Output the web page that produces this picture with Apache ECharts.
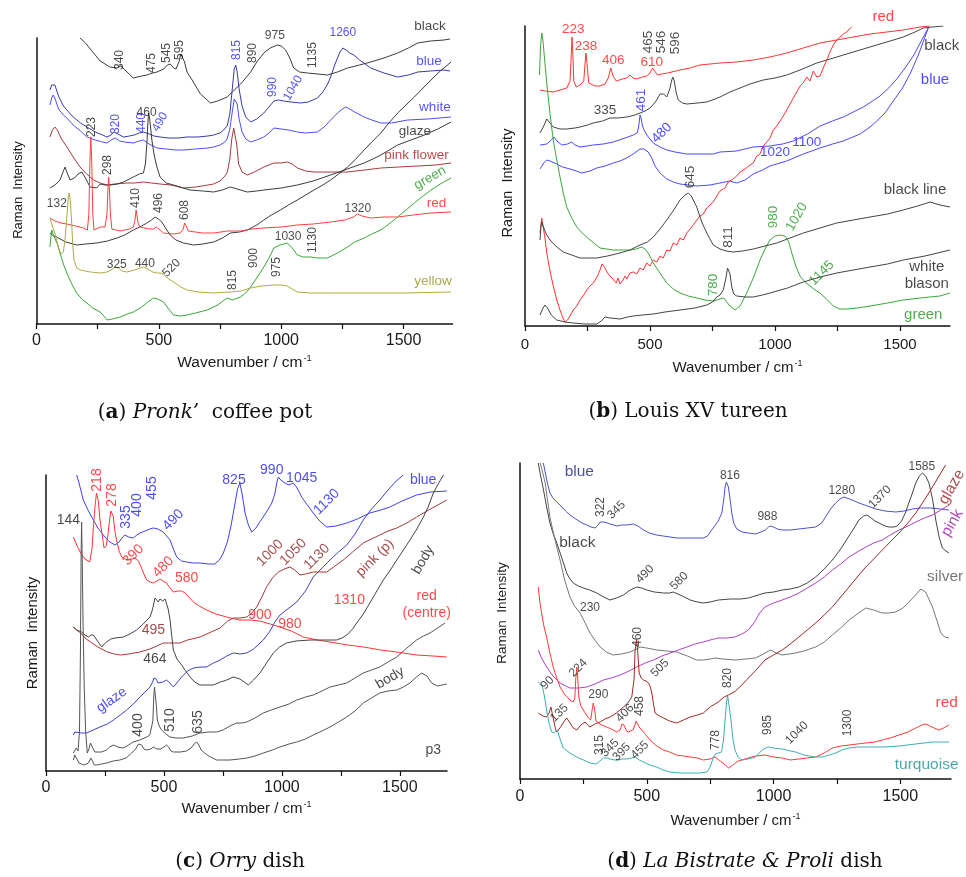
<!DOCTYPE html>
<html><head><meta charset="utf-8">
<script src="https://cdn.jsdelivr.net/npm/echarts@6/dist/echarts.min.js"></script>
<style>html,body{margin:0;padding:0;background:#fff}#c{width:966px;height:877px}</style>
</head><body><div id="c"></div>
<script>
// ---------- tick labels ----------
const xTickLabels = [0, 500, 1000, 1500];

// ---------- panel (a) Pronk' coffee pot ----------
const aBlack = [[178,286],[200,281],[230,272],[260,263],[300,257],[329,256],[345,258],[370,252],[395,246],[430,248],[451,249],[475,251],[492,252],[520,255],[535,259],[547,260],[560,256],[570,255],[582,262],[590,270],[597,271],[605,262],[615,252],[636,244],[670,230],[711,221],[740,223],[779,227],[800,232],[834,240],[855,246],[875,252],[900,262],[929,271],[955,276],[984,279],[1000,278],[1018,274],[1035,266],[1051,256],[1075,252],[1107,251],[1150,250],[1189,249],[1230,252],[1271,256],[1320,259],[1366,262],[1420,266],[1476,271],[1520,276],[1558,281],[1610,283],[1665,284],[1690,285]];
const aBlue = [[55,234],[62,239],[68,241],[75,239],[90,228],[110,218],[124,214],[150,207],[180,201],[206,197],[240,192],[270,189],[288,187],[305,189],[315,192],[325,191],[340,189],[356,187],[380,188],[400,189],[420,191],[437,192],[460,190],[480,188],[505,187],[540,186],[580,186],[615,187],[660,187],[700,188],[724,189],[750,191],[765,194],[779,198],[790,210],[800,235],[808,255],[814,259],[820,252],[828,235],[840,218],[855,207],[875,202],[900,205],[929,211],[950,217],[970,223],[990,224],[1010,223],[1040,222],[1080,221],[1110,222],[1148,226],[1170,232],[1190,240],[1202,247],[1220,260],[1240,272],[1252,276],[1265,274],[1280,271],[1297,269],[1320,264],[1366,256],[1420,251],[1476,247],[1520,249],[1558,252],[1610,253],[1665,254],[1690,253]];
const aWhite = [[55,219],[62,226],[68,229],[75,226],[90,215],[110,209],[124,206],[150,199],[180,193],[206,187],[240,184],[270,182],[288,181],[305,184],[322,186],[340,183],[360,182],[396,181],[420,183],[437,184],[460,180],[492,176],[530,175],[570,174],[601,174],[650,175],[700,176],[724,177],[750,179],[770,182],[779,185],[790,195],[800,212],[808,225],[814,227],[820,220],[828,205],[840,192],[855,185],[875,182],[900,184],[929,187],[950,191],[970,196],[1000,195],[1030,194],[1066,192],[1100,191],[1148,192],[1180,198],[1202,204],[1230,211],[1250,215],[1264,217],[1280,215],[1300,212],[1339,207],[1370,204],[1407,201],[1450,201],[1517,204],[1600,205],[1694,207]];
const aPinkFlower = [[55,187],[65,194],[75,197],[85,194],[100,186],[124,177],[150,167],[178,157],[205,150],[233,144],[260,141],[288,139],[320,140],[369,141],[400,141],[437,142],[470,141],[505,140],[550,139],[601,136],[650,137],[700,139],[724,140],[750,143],[770,148],[780,152],[790,165],[798,185],[806,196],[812,194],[818,180],[826,160],[840,152],[861,149],[890,152],[929,157],[970,161],[1000,161],[1025,162],[1045,160],[1066,156],[1100,153],[1134,152],[1200,152],[1271,152],[1340,154],[1407,156],[1480,157],[1558,158],[1630,159],[1694,161]];
const aGlaze = [[55,136],[75,139],[96,144],[110,153],[117,157],[124,152],[137,144],[155,146],[170,150],[185,152],[200,146],[219,137],[246,136],[260,140],[280,139],[301,139],[330,140],[355,142],[380,145],[396,147],[420,150],[437,151],[445,160],[451,180],[455,200],[458,211],[462,206],[467,195],[471,185],[480,170],[492,157],[505,147],[530,141],[560,139],[600,136],[628,134],[680,133],[724,132],[760,134],[792,137],[834,134],[861,132],[900,133],[929,134],[1000,136],[1066,139],[1130,143],[1202,149],[1270,155],[1339,161],[1400,168],[1476,179],[1530,184],[1585,189],[1640,195],[1694,202]];
const aBlack2 = [[55,91],[70,88],[82,87],[120,82],[164,79],[200,80],[246,81],[290,83],[329,86],[360,89],[396,94],[430,98],[451,101],[470,104],[485,107],[498,105],[512,102],[530,95],[546,89],[570,84],[601,81],[642,79],[680,80],[724,82],[760,86],[792,91],[830,92],[861,94],[900,99],[929,104],[960,109],[997,114],[1030,119],[1066,124],[1100,129],[1134,134],[1170,139],[1202,144],[1240,151],[1271,157],[1305,165],[1339,174],[1370,182],[1407,191],[1440,201],[1476,211],[1510,219],[1544,227],[1580,236],[1612,244],[1650,253],[1694,262]];
const aRed = [[55,106],[62,104],[75,103],[100,101],[124,100],[160,98],[192,96],[208,94],[214,110],[218,160],[222,187],[226,160],[230,110],[235,94],[260,97],[280,97],[288,110],[292,135],[295,147],[298,135],[302,110],[308,95],[342,93],[380,95],[396,97],[403,105],[407,114],[411,112],[416,100],[423,97],[460,95],[478,95],[490,97],[497,98],[505,94],[519,91],[560,90],[587,91],[600,95],[605,101],[608,102],[612,98],[620,93],[628,92],[680,91],[724,91],[780,93],[834,93],[880,95],[929,96],[1000,97],[1066,99],[1130,100],[1202,102],[1260,104],[1295,107],[1312,110],[1330,108],[1366,106],[1420,107],[1476,107],[1540,109],[1612,111],[1694,112]];
const aGreen = [[55,77],[60,90],[63,94],[68,90],[75,88],[85,80],[96,71],[110,60],[124,51],[140,42],[164,31],[185,25],[206,21],[230,16],[260,12],[275,8],[288,4],[310,5],[342,7],[370,10],[396,12],[430,17],[455,22],[478,26],[495,25],[519,22],[540,15],[560,9],[590,8],[615,9],[650,11],[697,14],[740,19],[779,26],[800,24],[834,27],[855,31],[875,37],[900,46],[929,57],[950,66],[970,76],[995,79],[1025,81],[1045,76],[1066,69],[1090,67],[1120,67],[1150,66],[1189,66],[1230,71],[1271,77],[1300,82],[1339,86],[1370,90],[1407,94],[1440,100],[1476,107],[1510,114],[1544,121],[1580,128],[1612,134],[1650,140],[1694,146]];
const aYellow = [[55,106],[65,98],[75,91],[88,78],[100,70],[110,72],[118,88],[125,110],[130,127],[133,131],[137,126],[143,105],[148,80],[153,64],[165,56],[178,54],[220,52],[260,51],[288,52],[305,54],[322,57],[335,56],[350,53],[369,52],[400,54],[425,56],[437,57],[455,55],[475,52],[492,51],[505,51],[519,50],[535,46],[560,42],[590,37],[615,34],[660,32],[724,31],[792,32],[834,33],[875,36],[920,38],[970,39],[1000,39],[1025,38],[1045,35],[1066,32],[1120,31],[1202,31],[1339,31],[1500,31],[1694,32]];
const aNotesDark = [[341,264,'340',90],[471,261,'475',90],[533,271,'545',90],[586,274,'595',90],[450,211,'460',0],[226,197,'223',90],[292,159,'298',90],[83,120,'132',0],[405,126,'410',90],[500,121,'496',90],[607,114,'608',90],[328,59,'325',0],[443,60,'440',0],[552,56,'520',45],[803,44,'815',90],[974,288,'975',0],[883,271,'890',90],[1130,269,'1135',90],[1313,115,'1320',0],[1028,87,'1030',0],[1130,84,'1130',90],[889,66,'900',90],[981,57,'975',90]];
const aNotesBlue = [[818,274,'815',90],[325,200,'320',90],[430,201,'440',90],[505,202,'490',60],[1252,291,'1260',0],[966,237,'990',90],[1048,236,'1040',60]];
const aNames = [[1608,298,'black',0],[1604,263,'blue',0],[1628,217,'white',0],[1546,193,'glaze',0],[1553,169,'pink flower',0],[1608,146,'green',30],[1635,121,'red',0],[1620,43,'yellow',0]];

// ---------- panel (b) Louis XV tureen ----------
const bRed = [[60,236],[80,235],[113,234],[140,236],[167,238],[180,245],[185,270],[188,289],[191,275],[195,245],[205,239],[220,241],[235,245],[240,262],[244,273],[248,262],[255,243],[280,240],[300,240],[320,242],[333,248],[343,258],[352,250],[365,245],[390,247],[407,248],[420,251],[432,248],[447,247],[470,249],[487,250],[500,253],[510,258],[518,256],[530,251],[545,252],[570,253],[620,256],[660,258],[700,261],[740,262],[780,263],[847,264],[913,266],[980,269],[1047,273],[1113,278],[1180,283],[1247,286],[1313,289],[1380,292],[1447,294],[1513,296],[1580,299],[1620,300]];
const bBlack = [[60,193],[75,200],[87,207],[100,203],[113,199],[140,197],[167,197],[200,198],[220,199],[250,201],[273,203],[310,205],[340,208],[370,208],[407,209],[440,211],[460,213],[480,215],[500,218],[515,222],[527,226],[540,232],[547,234],[555,232],[567,229],[578,236],[586,245],[591,249],[597,245],[605,233],[613,226],[630,223],[647,222],[690,223],[727,224],[760,227],[780,229],[820,234],[860,238],[900,242],[953,246],[1000,248],[1047,251],[1100,256],[1167,263],[1207,266],[1247,269],[1313,274],[1380,279],[1447,284],[1513,289],[1560,294],[1593,298],[1630,299],[1673,300]];
const bBlue1 = [[60,181],[87,182],[105,186],[116,189],[128,185],[147,181],[170,182],[187,184],[200,181],[220,179],[247,180],[273,181],[313,182],[353,184],[400,188],[433,191],[449,193],[455,200],[460,211],[464,208],[470,200],[476,196],[490,190],[513,183],[540,179],[567,176],[600,174],[647,172],[700,172],[753,172],[780,174],[847,175],[913,179],[980,180],[1030,182],[1073,185],[1130,192],[1180,200],[1230,205],[1273,209],[1313,214],[1353,219],[1390,225],[1420,230],[1455,238],[1487,247],[1520,258],[1553,270],[1585,285],[1613,298]];
const bBlue2 = [[60,157],[75,163],[87,166],[100,165],[127,162],[150,159],[180,157],[205,155],[227,153],[260,155],[287,158],[320,160],[353,163],[380,165],[407,168],[433,172],[460,177],[475,177],[493,174],[507,168],[520,160],[540,153],[567,147],[593,144],[620,142],[687,140],[740,141],[780,143],[820,145],[847,143],[880,146],[913,152],[950,156],[980,160],[1047,165],[1113,172],[1180,178],[1230,182],[1273,185],[1340,192],[1380,199],[1407,205],[1440,213],[1473,225],[1510,238],[1540,252],[1575,272],[1613,298]];
const bRed2 = [[60,93],[64,102],[67,108],[72,100],[80,88],[87,73],[100,55],[113,40],[127,26],[140,16],[150,9],[160,4],[170,6],[180,10],[193,16],[207,20],[220,26],[235,31],[250,37],[260,40],[273,43],[290,50],[300,56],[308,62],[313,63],[320,58],[330,53],[340,50],[347,48],[355,46],[365,43],[372,48],[380,42],[390,45],[400,50],[407,47],[420,53],[433,54],[447,52],[460,58],[473,56],[487,63],[500,60],[513,66],[527,64],[540,70],[553,68],[567,76],[580,75],[593,83],[607,81],[620,88],[633,86],[647,93],[660,97],[673,101],[687,106],[700,110],[713,112],[727,118],[740,121],[753,124],[767,130],[780,135],[800,138],[813,144],[827,146],[847,150],[860,154],[880,157],[900,161],[913,163],[927,170],[940,172],[953,180],[967,184],[980,188],[993,196],[1007,200],[1020,205],[1033,210],[1047,216],[1060,222],[1073,228],[1087,234],[1100,240],[1113,243],[1127,249],[1140,245],[1153,255],[1167,249],[1180,250],[1193,258],[1207,266],[1220,274],[1233,281],[1247,286],[1260,289],[1273,292],[1287,294],[1297,297],[1307,299]];
const bGreen = [[58,251],[62,280],[67,293],[72,285],[80,262],[87,243],[100,212],[113,186],[127,166],[140,149],[153,133],[167,119],[187,108],[207,99],[233,92],[260,86],[300,78],[353,76],[400,76],[420,76],[445,77],[467,79],[480,77],[495,72],[513,63],[540,53],[567,43],[593,37],[620,33],[653,30],[687,28],[720,26],[753,25],[780,27],[795,28],[807,24],[820,20],[840,16],[860,20],[887,33],[913,48],[940,66],[960,77],[980,86],[1000,90],[1020,91],[1040,90],[1055,84],[1067,73],[1083,60],[1100,50],[1120,44],[1140,40],[1160,36],[1180,33],[1210,26],[1233,20],[1260,17],[1287,17],[1330,18],[1380,20],[1450,23],[1513,26],[1580,28],[1660,30],[1700,33]];
const bBlackLine = [[60,86],[64,100],[67,104],[72,100],[85,92],[100,86],[127,79],[153,74],[187,71],[220,68],[250,68],[287,68],[330,70],[380,73],[420,76],[460,81],[490,84],[513,89],[540,97],[567,106],[595,116],[620,126],[640,131],[653,133],[665,130],[687,119],[707,104],[727,93],[753,81],[780,77],[805,75],[833,74],[870,75],[913,77],[960,80],[1007,83],[1060,88],[1113,93],[1180,98],[1247,103],[1313,106],[1380,109],[1450,112],[1513,116],[1570,120],[1620,124],[1660,121],[1700,119]];
const bWhiteBlason = [[60,11],[70,17],[80,21],[90,18],[105,11],[127,6],[160,4],[193,3],[240,2],[287,2],[305,5],[320,9],[340,8],[380,7],[410,9],[433,10],[470,11],[513,12],[560,14],[620,16],[680,18],[727,21],[750,24],[767,29],[780,31],[793,36],[803,47],[810,58],[815,59],[820,52],[827,39],[835,32],[847,30],[880,29],[913,29],[950,31],[980,33],[1050,38],[1113,44],[1180,49],[1247,53],[1313,56],[1380,59],[1450,62],[1513,66],[1600,70],[1700,76]];
const bNotesRed = [[193,297,'223',0],[244,280,'238',0],[353,266,'406',0],[507,264,'610',0]];
const bNotesDark = [[493,284,'465',90],[547,284,'546',90],[600,283,'596',90],[320,216,'335',0],[660,149,'645',90],[813,89,'811',90]];
const bNotesBlue = [[467,226,'461',90],[547,193,'480',45],[1000,174,'1020',0],[1127,184,'1100',0]];
const bNotesGreen = [[753,41,'780',90],[993,109,'980',90],[1087,109,'1020',60],[1187,53,'1145',45]];
const bNames = [[1433,309,'red',0],[1667,280,'black',0],[1640,246,'blue',0],[1560,136,'black line',0],[1607,59,'white',0],[1607,42,'blason',0],[1593,11,'green',0]];

// ---------- panel (c) Orry dish ----------
const cBlue = [[130,296],[140,288],[158,271],[180,260],[201,251],[220,243],[243,236],[265,230],[292,226],[310,229],[325,234],[335,236],[350,234],[370,233],[385,236],[398,238],[420,240],[440,242],[455,243],[475,242],[497,239],[515,234],[526,231],[540,222],[554,214],[575,210],[596,209],[625,208],[653,208],[690,207],[716,207],[735,211],[752,218],[770,230],[785,246],[800,266],[812,282],[822,288],[832,276],[844,258],[858,246],[872,239],[890,243],[906,249],[921,254],[940,261],[957,268],[970,277],[980,290],[985,294],[995,291],[1013,288],[1030,286],[1048,288],[1062,284],[1084,274],[1108,266],[1133,258],[1160,250],[1190,244],[1230,245],[1275,248],[1320,252],[1373,258],[1420,261],[1458,264],[1510,270],[1571,276],[1630,279],[1699,280]];
const cRed = [[116,234],[130,226],[147,218],[165,212],[185,209],[195,222],[201,244],[208,265],[214,278],[217,279],[222,270],[228,253],[235,241],[246,223],[255,225],[262,235],[270,252],[275,260],[278,261],[285,255],[292,240],[299,231],[310,220],[321,214],[335,212],[349,211],[365,212],[378,213],[384,212],[392,210],[405,203],[415,197],[427,191],[441,189],[455,188],[470,190],[483,192],[496,190],[511,188],[526,183],[540,179],[560,180],[575,180],[590,178],[605,174],[625,169],[650,165],[681,161],[720,157],[766,154],[800,152],[822,151],[865,151],[905,150],[921,149],[950,147],[992,144],[1040,140],[1091,134],[1150,131],[1204,129],[1280,126],[1345,124],[1420,121],[1487,119],[1571,116],[1640,115],[1699,114]];
const cPink = [[116,144],[130,141],[147,138],[170,132],[189,129],[220,124],[260,119],[290,117],[316,116],[350,117],[398,119],[440,122],[470,125],[497,128],[520,128],[545,128],[568,128],[600,131],[653,134],[700,139],[738,143],[770,150],[794,153],[822,153],[851,154],[873,158],[893,164],[915,174],[935,184],[960,193],[985,199],[1010,202],[1034,204],[1055,201],[1077,196],[1100,197],[1133,199],[1160,199],[1190,199],[1225,205],[1260,211],[1300,219],[1345,228],[1380,232],[1415,236],[1450,240],[1487,243],[1530,248],[1571,254],[1630,262],[1699,271]];
const cBody = [[116,144],[130,141],[151,139],[165,136],[180,134],[190,136],[201,136],[218,130],[236,124],[247,127],[257,129],[275,132],[292,133],[328,134],[356,137],[384,141],[412,147],[441,154],[452,162],[462,173],[469,172],[476,169],[483,172],[490,173],[495,170],[500,169],[505,172],[511,171],[518,162],[526,151],[533,135],[540,121],[555,112],[575,106],[592,100],[611,94],[630,89],[653,86],[680,86],[709,86],[740,89],[766,91],[794,94],[822,92],[840,89],[858,86],[880,91],[907,98],[935,108],[964,118],[990,124],[1020,128],[1060,130],[1119,131],[1180,131],[1232,131],[1255,133],[1275,136],[1300,142],[1317,148],[1345,157],[1373,168],[1400,179],[1430,191],[1460,201],[1487,211],[1515,221],[1543,231],[1572,242],[1600,254],[1620,264],[1642,278],[1665,288],[1685,296]];
const cGlaze = [[116,36],[122,39],[130,39],[150,38],[172,38],[200,41],[229,44],[260,47],[286,51],[315,56],[342,61],[370,67],[398,74],[420,79],[441,84],[452,89],[458,93],[462,94],[467,92],[475,88],[483,86],[496,89],[511,91],[525,88],[540,84],[558,89],[575,94],[600,100],[625,103],[653,104],[681,104],[710,108],[738,111],[766,115],[794,118],[822,117],[851,118],[880,122],[921,131],[950,140],[970,149],[992,156],[1030,163],[1063,169],[1100,180],[1133,194],[1170,203],[1204,211],[1240,219],[1275,226],[1310,237],[1345,251],[1380,262],[1415,271],[1450,281],[1485,290],[1515,296]];
const cBodyLow = [[116,18],[122,20],[128,23],[136,20],[142,40],[146,120],[149,220],[151,249],[153,220],[157,150],[162,84],[168,40],[175,18],[182,22],[189,28],[196,24],[207,19],[215,18],[235,19],[257,21],[270,24],[286,26],[305,24],[328,23],[350,26],[370,29],[398,31],[427,34],[440,36],[448,38],[453,50],[457,75],[460,84],[464,84],[468,65],[472,51],[480,45],[490,41],[508,37],[526,34],[550,33],[582,33],[620,35],[653,38],[690,39],[723,39],[750,41],[780,45],[808,48],[830,48],[851,49],[886,53],[921,58],[955,61],[992,64],[1030,67],[1063,71],[1100,74],[1133,76],[1170,80],[1204,84],[1240,86],[1275,88],[1310,93],[1345,98],[1380,101],[1415,104],[1450,109],[1487,114],[1530,123],[1571,131],[1600,135],[1628,138],[1660,143],[1692,148]];
const cP3 = [[116,11],[122,16],[128,14],[140,8],[160,6],[180,8],[190,13],[197,10],[205,6],[215,6],[235,7],[257,8],[285,10],[313,11],[340,13],[363,18],[380,22],[392,27],[398,28],[405,26],[415,22],[427,21],[445,22],[455,24],[462,24],[470,22],[485,22],[500,24],[511,26],[520,24],[530,20],[540,19],[570,19],[596,20],[615,23],[628,27],[639,29],[648,26],[658,21],[667,19],[690,15],[723,11],[750,11],[780,11],[820,12],[851,13],[886,15],[921,18],[960,21],[992,24],[1030,27],[1063,29],[1100,32],[1133,36],[1170,40],[1204,44],[1240,49],[1275,54],[1310,60],[1345,68],[1380,73],[1415,78],[1450,80],[1487,81],[1515,84],[1543,88],[1570,94],[1593,98],[1615,95],[1635,88],[1660,85],[1699,87]];
const cNotesRed = [[215,291,'218',90],[279,276,'278',90],[370,216,'390',45],[497,204,'480',45],[596,193,'580',0],[1286,171,'1310',0],[907,156,'900',0],[1034,147,'980',0],[1614,175,'red',0],[1614,158,'(centre)',0]];
const cNotesBlue = [[339,254,'335',90],[387,266,'400',90],[452,283,'455',90],[540,251,'490',45],[797,291,'825',0],[957,301,'990',0],[1084,293,'1045',0],[1190,269,'1130',45],[1599,291,'blue',0],[279,71,'glaze',35]];
const cNotesDark = [[95,251,'144',0],[462,112,'464',0],[391,46,'400',90],[526,51,'510',90],[646,49,'635',90],[1599,211,'body',60],[1458,93,'body',30],[1642,21,'p3',0]];
const cNotesBrown = [[455,141,'495',0],[950,218,'1000',45],[1048,219,'1050',45],[1148,214,'1130',45],[1395,213,'pink (p)',45]];

// ---------- panel (d) La Bistrate & Proli dish ----------
const dBlue = [[92,316],[100,306],[108,296],[118,286],[130,281],[145,277],[158,274],[180,268],[197,264],[220,260],[245,256],[263,254],[280,252],[296,251],[305,253],[316,257],[330,257],[345,256],[355,255],[370,254],[382,253],[400,254],[421,254],[447,255],[465,253],[487,249],[510,246],[539,244],[565,243],[592,242],[620,241],[658,241],[690,241],[723,241],[740,243],[750,247],[765,252],[782,258],[796,266],[804,280],[809,292],[814,297],[818,297],[822,292],[829,279],[836,265],[843,256],[855,250],[876,247],[900,246],[929,245],[950,247],[968,249],[980,252],[988,253],[1000,252],[1015,250],[1034,249],[1066,249],[1100,250],[1133,251],[1166,252],[1190,256],[1205,262],[1225,270],[1245,276],[1262,280],[1278,282],[1300,280],[1320,278],[1337,276],[1370,273],[1403,270],[1440,268],[1482,267],[1515,268],[1548,270],[1580,271],[1620,271],[1660,270],[1692,269]];
const dBlack = [[72,316],[80,305],[92,290],[105,272],[118,256],[130,246],[145,236],[165,221],[184,206],[197,200],[210,196],[230,193],[250,191],[275,189],[303,186],[330,182],[355,179],[380,181],[408,184],[435,189],[460,192],[480,191],[500,189],[530,187],[566,186],[590,186],[605,187],[640,183],[671,179],[700,177],[723,176],[750,177],[782,179],[830,180],[870,180],[901,181],[940,184],[966,186],[1000,187],[1034,189],[1066,190],[1100,192],[1133,196],[1166,202],[1200,210],[1232,219],[1265,230],[1295,242],[1318,251],[1337,259],[1355,263],[1368,264],[1385,261],[1400,258],[1416,256],[1440,253],[1455,252],[1475,252],[1488,253],[1505,258],[1520,266],[1528,272],[1545,284],[1561,296],[1575,303],[1587,306],[1600,303],[1613,296],[1627,280],[1640,259],[1653,242],[1666,231],[1680,228],[1692,226]];
const dSilver = [[80,316],[90,306],[100,295],[108,280],[118,262],[130,248],[145,232],[158,219],[175,200],[197,182],[215,173],[237,166],[255,157],[276,146],[295,139],[316,132],[340,127],[368,124],[400,125],[434,127],[460,130],[474,132],[500,131],[539,129],[580,128],[618,127],[660,123],[697,119],[723,119],[750,120],[769,121],[800,120],[848,119],[890,120],[929,121],[960,125],[988,129],[1010,126],[1034,124],[1060,125],[1087,126],[1120,128],[1166,132],[1200,137],[1232,144],[1265,151],[1298,159],[1330,165],[1364,171],[1395,169],[1429,166],[1455,166],[1482,167],[1510,171],[1535,177],[1560,184],[1581,190],[1600,187],[1627,172],[1645,158],[1660,146],[1675,142],[1692,141]];
const dPink = [[72,129],[85,121],[105,112],[130,103],[158,96],[180,93],[197,91],[230,91],[263,92],[295,95],[329,99],[360,101],[395,104],[430,108],[460,112],[494,116],[526,119],[560,123],[592,126],[625,129],[658,132],[690,135],[723,137],[750,139],[782,141],[815,141],[848,142],[875,145],[901,149],[925,157],[945,166],[966,172],[1000,176],[1034,179],[1066,182],[1100,186],[1133,191],[1166,196],[1200,202],[1232,209],[1265,215],[1298,222],[1330,227],[1364,232],[1395,236],[1429,239],[1460,244],[1495,249],[1530,253],[1561,257],[1595,261],[1627,264],[1660,269],[1692,274]];
const dGlaze = [[72,66],[90,63],[105,62],[115,66],[122,72],[130,62],[140,50],[145,47],[160,52],[175,58],[184,61],[195,57],[210,51],[224,49],[240,54],[257,57],[267,54],[276,52],[295,55],[316,57],[335,60],[355,62],[380,66],[408,72],[425,76],[441,82],[450,100],[454,129],[460,139],[465,125],[470,106],[478,101],[487,99],[497,98],[507,96],[514,92],[520,86],[527,74],[533,66],[550,63],[566,61],[590,58],[618,56],[645,59],[671,62],[700,64],[723,66],[750,72],[782,77],[805,82],[822,84],[850,88],[875,94],[901,101],[935,110],[966,119],[1000,124],[1034,129],[1066,135],[1100,142],[1133,149],[1166,156],[1200,164],[1232,172],[1265,182],[1298,192],[1330,202],[1364,212],[1395,220],[1429,229],[1460,237],[1495,246],[1530,256],[1561,266],[1595,279],[1627,292],[1655,304],[1679,314]];
const dRed = [[72,192],[78,178],[85,166],[95,152],[105,142],[118,126],[131,112],[145,101],[158,92],[175,85],[197,79],[210,77],[216,80],[220,100],[224,112],[228,100],[232,82],[240,73],[257,66],[270,61],[279,59],[285,70],[289,76],[294,70],[300,58],[315,55],[342,52],[360,50],[382,47],[395,49],[402,55],[405,57],[410,54],[420,48],[428,47],[445,49],[452,53],[458,58],[463,57],[470,52],[480,49],[497,44],[513,39],[540,33],[566,29],[590,27],[618,24],[645,23],[671,22],[700,21],[723,19],[750,20],[769,22],[790,18],[810,14],[822,11],[840,14],[860,18],[875,19],[900,21],[930,23],[966,24],[1000,22],[1034,21],[1066,19],[1100,20],[1133,21],[1166,22],[1200,26],[1232,31],[1265,33],[1298,34],[1330,35],[1364,36],[1400,37],[1429,39],[1460,41],[1495,44],[1530,47],[1561,51],[1585,54],[1600,55],[1625,52],[1653,49],[1670,51],[1692,54]];
const dTurquoise = [[72,97],[80,95],[89,92],[97,82],[105,69],[115,55],[125,47],[135,46],[147,49],[158,40],[171,31],[197,26],[224,22],[250,19],[276,16],[300,15],[315,18],[329,21],[345,21],[355,20],[375,19],[388,19],[405,20],[421,20],[440,21],[454,22],[470,19],[487,17],[513,14],[539,12],[565,9],[592,7],[630,6],[671,6],[710,6],[737,7],[750,12],[758,18],[763,22],[772,25],[782,26],[795,27],[803,40],[809,59],[815,78],[819,83],[824,75],[832,59],[840,40],[848,29],[860,22],[875,19],[900,20],[929,22],[955,29],[970,31],[981,32],[1000,31],[1034,30],[1066,28],[1087,27],[1120,24],[1140,23],[1166,22],[1192,22],[1220,24],[1245,26],[1270,29],[1298,31],[1330,32],[1364,32],[1430,32],[1495,33],[1560,35],[1627,37],[1692,37]];
const dNotesDark = [[320,272,'322',90],[381,269,'345',45],[493,205,'490',45],[628,198,'580',45],[276,171,'230',0],[463,142,'460',90],[230,111,'224',45],[552,111,'505',45],[108,96,'90',45],[309,84,'290',0],[155,66,'135',45],[414,66,'406',45],[473,73,'458',90],[316,34,'315',90],[355,31,'345',45],[401,27,'395',45],[473,29,'455',45],[773,39,'778',90],[828,303,'816',0],[1585,312,'1585',0],[1269,288,'1280',0],[1420,282,'1370',45],[976,262,'988',0],[818,101,'820',90],[977,54,'985',90],[1092,46,'1040',45],[1293,56,'1300',90]];
const dNames = [[234,307,'blue',0],[226,236,'black',0],[1703,292,'glaze',60],[1705,256,'pink',60],[1677,202,'silver',0],[1683,76,'red',0],[1604,14,'turquoise',0]];

// ---------- styling ----------
const SANS = 'Liberation Sans, Arial, sans-serif';
const SERIF = 'DejaVu Serif, Liberation Serif, serif';
const panels = [
  {grid:{left:36.5, top:38, width:416, height:286}, ymax:286, tick:16, name:15.5, nameGap:30, margin:9},
  {grid:{left:525, top:26, width:425, height:300}, ymax:300, tick:15, name:15, nameGap:33, margin:11},
  {grid:{left:46, top:475, width:401, height:296}, ymax:296, tick:16, name:15, nameGap:29, margin:9},
  {grid:{left:520, top:463, width:431, height:316}, ymax:316, tick:16, name:15, nameGap:33, margin:10}
];

const series = [];
function line(p, data, color, w) {
  series.push({type:'line', xAxisIndex:p, yAxisIndex:p, data:data, showSymbol:false, symbol:'none',
    lineStyle:{color:color, width:w||1}, itemStyle:{color:color}, silent:true, animation:false, z:2});
}
function notes(p, items, color, size) {
  series.push({type:'scatter', xAxisIndex:p, yAxisIndex:p, symbolSize:1, clip:false, silent:true, animation:false, z:5,
    itemStyle:{color:'rgba(0,0,0,0)'},
    data: items.map(it => ({value:[it[0], it[1]], name:it[2], label:{rotate:it[3]||0}})),
    label:{show:true, position:'inside', formatter:'{b}', color:color, fontSize:size, fontFamily:SANS}
  });
}
function named(p, items, colors, size) {
  items.forEach((it, i) => notes(p, [it], colors[i], size));
}

// panel a
line(0, aBlack, '#3c3c3c'); line(0, aBlue, '#3a3aa8'); line(0, aWhite, '#4d4dff');
line(0, aPinkFlower, '#a63a3a'); line(0, aGlaze, '#3c3c3c'); line(0, aBlack2, '#3c3c3c');
line(0, aRed, '#ff4040'); line(0, aGreen, '#3aa83a'); line(0, aYellow, '#acac40');
notes(0, aNotesDark, '#1a1a1a', 12); notes(0, aNotesBlue, '#2828ff', 12);
named(0, aNames, ['#1a1a1a','#2828ff','#2828ff','#1a1a1a','#a02020','#229a22','#ff2020','#959520'], 13.5);
// panel b
line(1, bRed, '#ff3535'); line(1, bBlack, '#444'); line(1, bBlue1, '#4a4aff'); line(1, bBlue2, '#4a4aff');
line(1, bRed2, '#ff3535'); line(1, bGreen, '#3aa83a'); line(1, bBlackLine, '#444'); line(1, bWhiteBlason, '#444');
notes(1, bNotesRed, '#ff1a1a', 13.5); notes(1, bNotesDark, '#1a1a1a', 13.5);
notes(1, bNotesBlue, '#2020ff', 13.5); notes(1, bNotesGreen, '#229a22', 13.5);
named(1, bNames, ['#ff1a1a','#1a1a1a','#2020ff','#1a1a1a','#1a1a1a','#1a1a1a','#229a22'], 15);
// panel c
line(2, cBlue, '#4040f0'); line(2, cRed, '#ff3535'); line(2, cPink, '#a83838'); line(2, cBody, '#444');
line(2, cGlaze, '#4040cc'); line(2, cBodyLow, '#555'); line(2, cP3, '#555');
notes(2, cNotesRed, '#ff1a1a', 14); notes(2, cNotesBlue, '#2020ee', 14);
notes(2, cNotesDark, '#1a1a1a', 14); notes(2, cNotesBrown, '#8a1a1a', 14);
// panel d
line(3, dBlue, '#5050c8'); line(3, dBlack, '#444'); line(3, dSilver, '#777'); line(3, dPink, '#b040c8');
line(3, dGlaze, '#a02828'); line(3, dRed, '#ff3a3a'); line(3, dTurquoise, '#3cb0b0');
notes(3, dNotesDark, '#1a1a1a', 12);
named(3, dNames, ['#22228a','#1a1a1a','#9a1a1a','#9a1aa8','#555','#ff2020','#1e9090'], 15.5);

const option = {
  animation:false,
  backgroundColor:'#fff',
  textStyle:{fontFamily:SANS},
  grid: panels.map(p => Object.assign({containLabel:false, outerBoundsMode:'none'}, p.grid)),
  xAxis: panels.map((p, i) => ({
    type:'value', gridIndex:i, min:0, max:1700, interval:250,
    name:'{n|Wavenumber / cm}{s|-1}', nameLocation:'middle', nameGap:p.nameGap,
    nameTextStyle:{rich:{n:{fontSize:p.name, fontFamily:SANS, color:'#1a1a1a'}, s:{fontSize:p.name*0.6, fontFamily:SANS, color:'#1a1a1a', verticalAlign:'top', padding:[0,0,8,1]}}},
    axisLine:{show:true, onZero:false, lineStyle:{color:'#111', width:1.5}},
    axisTick:{show:true, inside:false, length:5, lineStyle:{color:'#111', width:1.2}},
    axisLabel:{show:true, margin:p.margin, fontSize:p.tick, color:'#1a1a1a', fontFamily:SANS,
      showMaxLabel:false, formatter: v => xTickLabels.indexOf(v) >= 0 ? String(v) : ''},
    splitLine:{show:false}
  })),
  yAxis: panels.map((p, i) => ({
    type:'value', gridIndex:i, min:0, max:p.ymax,
    axisLine:{show:true, onZero:false, lineStyle:{color:'#111', width:1.5}},
    axisTick:{show:false}, axisLabel:{show:false}, splitLine:{show:false}
  })),
  graphic: [
    {type:'text', x:18, y:190, rotation:Math.PI/2, style:{text:'Raman  Intensity', font:'13px '+SANS, fill:'#1a1a1a', align:'center', verticalAlign:'middle', textAlign:'center', textVerticalAlign:'middle'}},
    {type:'text', x:508, y:183, rotation:Math.PI/2, style:{text:'Raman  Intensity', font:'14.5px '+SANS, fill:'#1a1a1a', align:'center', verticalAlign:'middle', textAlign:'center', textVerticalAlign:'middle'}},
    {type:'text', x:33, y:633, rotation:Math.PI/2, style:{text:'Raman  Intensity', font:'15px '+SANS, fill:'#1a1a1a', align:'center', verticalAlign:'middle', textAlign:'center', textVerticalAlign:'middle'}},
    {type:'text', x:502, y:613, rotation:Math.PI/2, style:{text:'Raman  Intensity', font:'13.5px '+SANS, fill:'#1a1a1a', align:'center', verticalAlign:'middle', textAlign:'center', textVerticalAlign:'middle'}},
    {type:'text', x:205, y:413, style:{text:'{p|(}{b|a}{p|) }{i|Pronk\u2019}{p|  coffee pot}', align:'center', verticalAlign:'middle', textAlign:'center', textVerticalAlign:'middle',
      rich:{p:{font:'20px '+SERIF, fill:'#111'}, b:{font:'bold 20px '+SERIF, fill:'#111'}, i:{font:'italic 20px '+SERIF, fill:'#111'}}}},
    {type:'text', x:688, y:412, style:{text:'{p|(}{b|b}{p|) Louis XV tureen}', align:'center', verticalAlign:'middle', textAlign:'center', textVerticalAlign:'middle',
      rich:{p:{font:'20px '+SERIF, fill:'#111'}, b:{font:'bold 20px '+SERIF, fill:'#111'}}}},
    {type:'text', x:240, y:862, style:{text:'{p|(}{b|c}{p|) }{i|Orry}{p| dish}', align:'center', verticalAlign:'middle', textAlign:'center', textVerticalAlign:'middle',
      rich:{p:{font:'20px '+SERIF, fill:'#111'}, b:{font:'bold 20px '+SERIF, fill:'#111'}, i:{font:'italic 20px '+SERIF, fill:'#111'}}}},
    {type:'text', x:745, y:862, style:{text:'{p|(}{b|d}{p|) }{i|La Bistrate & Proli}{p| dish}', align:'center', verticalAlign:'middle', textAlign:'center', textVerticalAlign:'middle',
      rich:{p:{font:'20px '+SERIF, fill:'#111'}, b:{font:'bold 20px '+SERIF, fill:'#111'}, i:{font:'italic 20px '+SERIF, fill:'#111'}}}}
  ],
  series: series
};
const chart = echarts.init(document.getElementById('c'), null, {renderer:'canvas', width:966, height:877});
chart.setOption(option);
</script></body></html>
